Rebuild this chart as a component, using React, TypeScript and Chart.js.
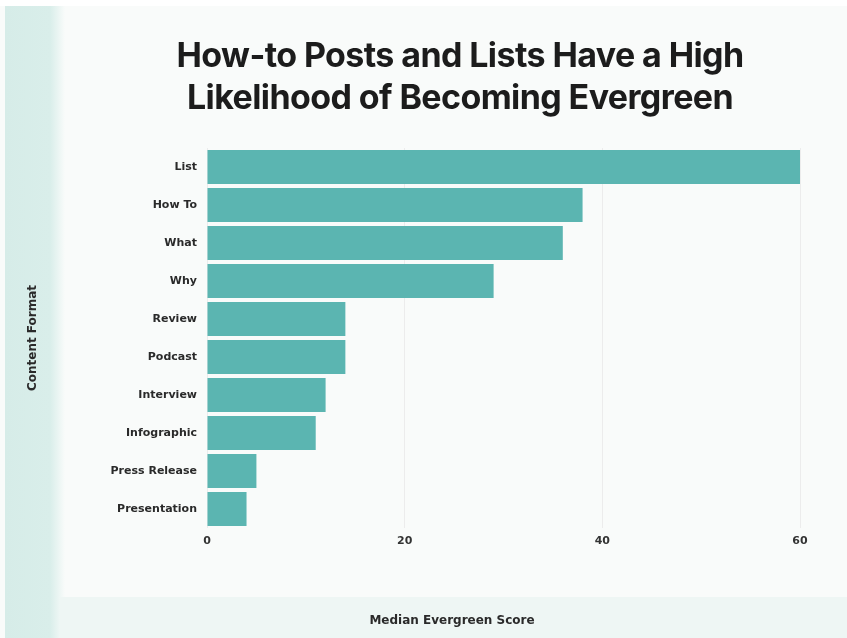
import React, { useEffect, useRef } from "react";
import { Chart, registerables } from "chart.js";

Chart.register(...registerables);

const CATEGORIES = [
  "List",
  "How To",
  "What",
  "Why",
  "Review",
  "Podcast",
  "Interview",
  "Infographic",
  "Press Release",
  "Presentation",
];
const SCORES = [60, 38, 36, 29, 14, 14, 12, 11, 5, 4];
const X_TICKS = [0, 20, 40, 60];
const TITLE_LINES = ["How-to Posts and Lists Have a High", "Likelihood of Becoming Evergreen"];
const X_TITLE = "Median Evergreen Score";
const Y_TITLE = "Content Format";

const FONT = "'DejaVu Sans', sans-serif";

const overlayPlugin = {
  id: "overlayText",
  afterDraw(chart: any) {
    const ctx = chart.ctx;
    ctx.save();
    ctx.fillStyle = "#1c1c1c";
    ctx.textAlign = "center";
    ctx.textBaseline = "alphabetic";
    ctx.font = "bold 34px Inter, sans-serif";
    try { (ctx as any).letterSpacing = "-0.6px"; } catch (e) {}
    TITLE_LINES.forEach((line, i) => ctx.fillText(line, 460, 67 + i * 42));
    try { (ctx as any).letterSpacing = "0px"; } catch (e) {}
    ctx.font = `bold 12px ${FONT}`;
    ctx.fillStyle = "#2a2a2a";
    ctx.textBaseline = "middle";
    ctx.fillText(X_TITLE, 452, 621);
    ctx.restore();
  },
};

export default function App() {
  const ref = useRef<HTMLCanvasElement | null>(null);

  useEffect(() => {
    if (!ref.current) return;
    const chart = new Chart(ref.current, {
      type: "bar",
      data: {
        labels: CATEGORIES,
        datasets: [
          {
            data: SCORES,
            backgroundColor: "#5bb5b1",
            borderWidth: 0,
            barPercentage: 0.9,
            categoryPercentage: 1,
          },
        ],
      },
      options: {
        indexAxis: "y",
        animation: false,
        responsive: false,
        layout: { padding: { top: 148, right: 47, left: 0, bottom: 0 } },
        plugins: {
          legend: { display: false },
          tooltip: { enabled: false },
          title: { display: false },
        },
        scales: {
          x: {
            min: 0,
            max: 60,
            afterBuildTicks: (scale: any) => {
              scale.ticks = X_TICKS.map((v) => ({ value: v }));
            },
            afterFit: (scale: any) => {
              scale.height = 110;
            },
            grid: { color: "#ececec", drawTicks: false, lineWidth: 1 },
            border: { display: false },
            ticks: {
              padding: 7,
              color: "#333",
              font: { family: FONT, size: 11, weight: "bold" },
            },
          },
          y: {
            afterFit: (scale: any) => {
              scale.width = 207;
            },
            grid: { display: false, drawTicks: false },
            border: { display: false },
            ticks: {
              padding: 10,
              color: "#2a2a2a",
              font: { family: FONT, size: 11, weight: "bold" },
            },
            title: {
              display: true,
              text: Y_TITLE,
              color: "#2a2a2a",
              font: { family: FONT, size: 12, weight: "bold" },
              padding: { top: 26, bottom: 0 },
            },
          },
        },
      } as any,
      plugins: [overlayPlugin],
    });
    return () => chart.destroy();
  }, []);

  return (
    <div
      style={{
        position: "fixed",
        left: 0,
        top: 0,
        width: 847,
        height: 638,
        overflow: "hidden",
        background: "#f9fbfa",
      }}
    >
      <div style={{ position: "absolute", left: 0, top: 0, width: 847, height: 6, background: "#ffffff" }} />
      <div
        style={{
          position: "absolute",
          left: 5,
          top: 6,
          width: 60,
          height: 632,
          background: "linear-gradient(90deg, #d6ece8 0%, #d9eeea 75%, #f9fbfa 100%)",
        }}
      />
      <div style={{ position: "absolute", left: 60, top: 597, width: 787, height: 41, background: "#eef6f4" }} />
      <canvas ref={ref} width={847} height={638} style={{ position: "absolute", left: 0, top: 0 }} />
    </div>
  );
}
